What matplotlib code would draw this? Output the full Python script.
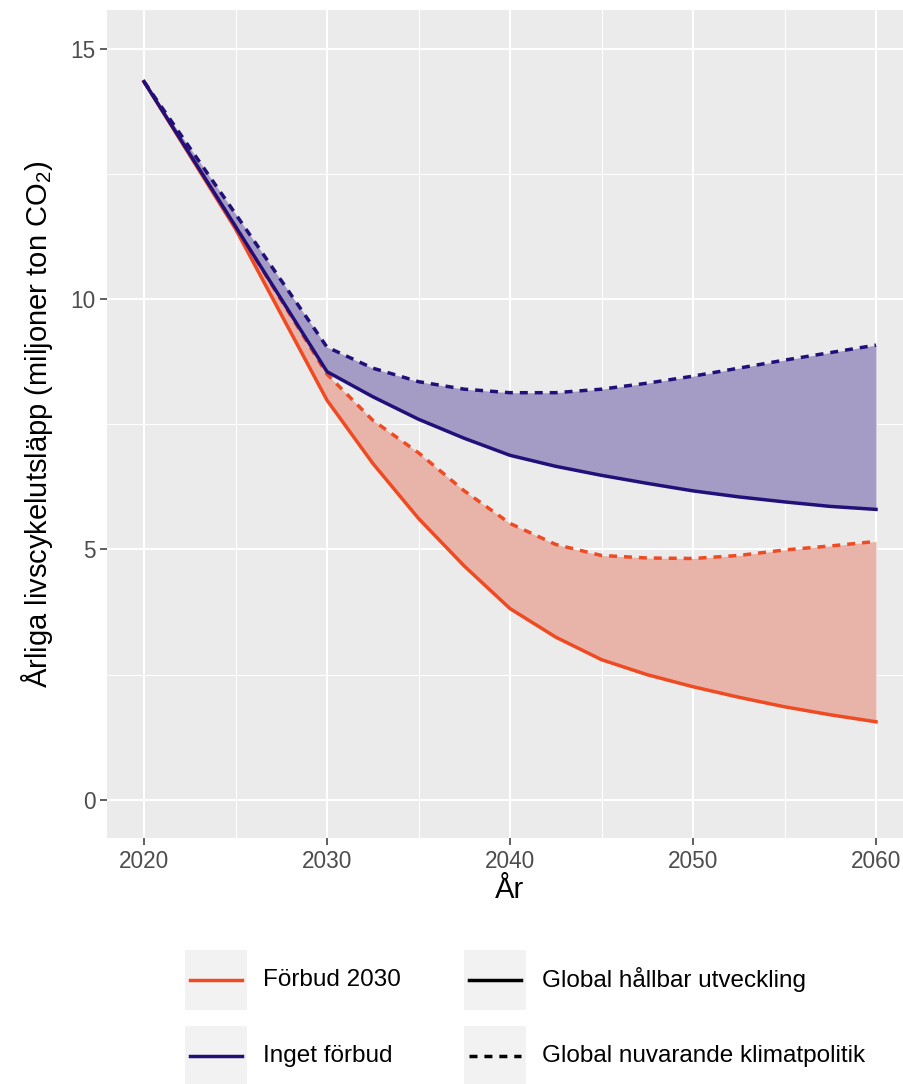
import matplotlib
matplotlib.use("Agg")
import matplotlib.pyplot as plt
from matplotlib.patches import Rectangle
from matplotlib.lines import Line2D
from matplotlib.ticker import MultipleLocator

plt.rcParams["font.family"] = ["Liberation Sans", "DejaVu Sans"]
plt.rcParams["mathtext.fontset"] = "custom"
plt.rcParams["mathtext.rm"] = "Liberation Sans"
plt.rcParams["mathtext.it"] = "Liberation Sans:italic"

# Annual life-cycle emissions (million tonnes CO2) per scenario
years = [2020, 2025, 2030, 2032.5, 2035, 2037.5, 2040, 2042.5, 2045,
         2047.5, 2050, 2052.5, 2055, 2057.5, 2060]

ban_sustainable = [14.34, 11.40, 7.98, 6.72, 5.62, 4.67, 3.82, 3.25, 2.80,
                   2.50, 2.26, 2.05, 1.86, 1.70, 1.56]
ban_current = [14.34, 11.45, 8.50, 7.58, 6.93, 6.17, 5.52, 5.10, 4.88,
               4.83, 4.82, 4.88, 4.99, 5.07, 5.16]
noban_sustainable = [14.34, 11.45, 8.55, 8.05, 7.60, 7.22, 6.88, 6.66, 6.48,
                     6.32, 6.17, 6.05, 5.95, 5.86, 5.80]
noban_current = [14.34, 11.70, 9.04, 8.62, 8.35, 8.20, 8.13, 8.13, 8.20,
                 8.32, 8.46, 8.62, 8.78, 8.93, 9.08]

colour_labels = ["Förbud 2030", "Inget förbud"]
linetype_labels = ["Global hållbar utveckling", "Global nuvarande klimatpolitik"]

RED = "#EF4A22"
BLUE = "#22107A"
RED_FILL = "#E8B4AA"
BLUE_FILL = "#A59CC6"
PANEL = "#EBEBEB"
KEY_BG = "#F2F2F2"

W, H = 904, 1084
fig = plt.figure(figsize=(W / 100, H / 100), dpi=100)

# panel spans 2018..2062 horizontally, which runs slightly past the right edge
x0, x1 = 107.4, 912.6
y0, y1 = 10, 838
ax = fig.add_axes([x0 / W, 1 - y1 / H, (x1 - x0) / W, (y1 - y0) / H])
ax.set_facecolor(PANEL)
for s in ax.spines.values():
    s.set_visible(False)

ax.set_xlim(2018, 2062)
ax.set_ylim(-0.76, 15.77)
ax.xaxis.set_major_locator(MultipleLocator(10))
ax.xaxis.set_minor_locator(MultipleLocator(5))
ax.yaxis.set_major_locator(MultipleLocator(5))
ax.yaxis.set_minor_locator(MultipleLocator(2.5))
ax.grid(which="major", color="white", lw=1.5)
ax.grid(which="minor", color="white", lw=0.75)
ax.set_axisbelow(True)
ax.tick_params(which="major", length=5, width=1.1, color="#333333",
               labelsize=16.3, labelcolor="#4D4D4D", pad=3.5)
ax.tick_params(which="minor", length=0)

ax.fill_between(years, ban_sustainable, ban_current, color=RED_FILL, lw=0)
ax.fill_between(years, noban_sustainable, noban_current, color=BLUE_FILL, lw=0)

lw = 2.5
dash = (2.3, 2.0)
ax.plot(years, ban_sustainable, color=RED, lw=lw, solid_joinstyle="round")
ax.plot(years, ban_current, color=RED, lw=lw, dashes=dash)
ax.plot(years, noban_sustainable, color=BLUE, lw=lw, solid_joinstyle="round")
ax.plot(years, noban_current, color=BLUE, lw=lw, dashes=dash)

ax.set_xlabel("År", fontsize=21, color="black", labelpad=2)
ax.set_ylabel("Årliga livscykelutsläpp (miljoner ton CO$_\\mathrm{2}$)",
              fontsize=21, color="black", labelpad=11)

# bottom legends: colour (scenario) and linetype (global development)
lg = fig.add_axes([0, 0, 1, 1], facecolor="none")
lg.set_xlim(0, W)
lg.set_ylim(H, 0)
lg.axis("off")

key_w, key_h = 62, 60
rows = [950, 1026]
cols = [185, 464]
for r, lab in enumerate(colour_labels):
    col = [RED, BLUE][r]
    y = rows[r]
    lg.add_patch(Rectangle((cols[0], y), key_w, key_h, color=KEY_BG, lw=0))
    lg.add_line(Line2D([cols[0] + 5, cols[0] + key_w - 5], [y + key_h / 2] * 2,
                       color=col, lw=lw))
    lg.text(cols[0] + key_w + 16, y + key_h / 2, lab, fontsize=17.5,
            va="center", ha="left", color="black")
for r, lab in enumerate(linetype_labels):
    y = rows[r]
    lg.add_patch(Rectangle((cols[1], y), key_w, key_h, color=KEY_BG, lw=0))
    kw = dict(color="black", lw=lw)
    if r == 1:
        kw["dashes"] = dash
    lg.add_line(Line2D([cols[1] + 5, cols[1] + key_w - 5], [y + key_h / 2] * 2, **kw))
    lg.text(cols[1] + key_w + 16, y + key_h / 2, lab, fontsize=17.5,
            va="center", ha="left", color="black")

fig.savefig("out.png", dpi=100, facecolor="white")
